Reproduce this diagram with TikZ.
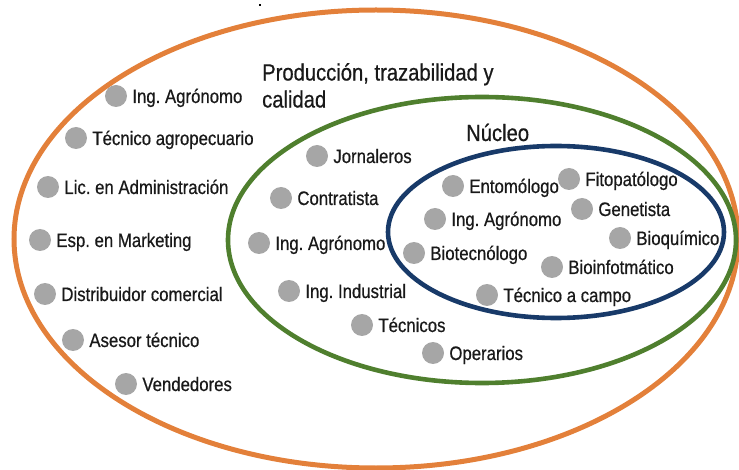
\documentclass[tikz,border=0pt]{standalone}
\usepackage{fontspec}
\setmainfont{Liberation Sans}[FakeStretch=0.86,FakeBold=0.6]
\usetikzlibrary{positioning}
\definecolor{ringorange}{HTML}{E3803A}
\definecolor{ringgreen}{HTML}{4F7F2E}
\definecolor{ringblue}{HTML}{183A69}
\definecolor{dotgray}{HTML}{A6A6A6}
\frenchspacing
\tikzset{
  ring/.style={line width=4.6pt},
  dot/.style={circle,fill=dotgray,minimum size=22pt,inner sep=0pt},
  lbl/.style={font=\fontsize{19.5}{22}\selectfont,text=black!90,inner sep=0pt,
    text height=14pt,text depth=0pt},
  heading/.style={font=\fontsize{23.5}{27}\selectfont,text=black!90,inner sep=0pt,align=left},
}

\begin{document}
\begin{tikzpicture}[x=1pt,y=-1pt]
  \useasboundingbox (0,0) rectangle (739,470);

  % Draw the three rings
  \draw[ring,ringorange,line width=5pt] (376,239) ellipse [x radius=362pt,y radius=229pt];
  \draw[ring,ringgreen] (482,240) ellipse [x radius=254pt,y radius=143pt];
  \draw[ring,ringblue] (556,232) ellipse [x radius=168pt,y radius=86pt];

  \fill[black] (259,4) rectangle (261,6);

  % Headings
  \node[heading,anchor=north west] (prod) at (262,63) {Producción, trazabilidad y\\calidad};
  \node[heading,anchor=base west] (nucleo) at (466,141) {Núcleo};

  % Outer ring
  \foreach \n/\x/\y/\t in {o1/116/96/Ing. Agrónomo, o2/76/138/Técnico agropecuario,
      o3/48/187/Lic. en Administración, o4/40/240/Esp. en Marketing,
      o5/45/294/Distribuidor comercial, o6/73/340/Asesor técnico, o7/126/384/Vendedores}{
    \node[dot] (\n) at (\x,\y) {};
    \node[lbl,right=5pt of \n] (\n-t) {\t};
  }

  % Middle ring
  \foreach \n/\x/\y/\t in {m1/317/156/Jornaleros, m2/281/198/Contratista,
      m3/259/243/Ing. Agrónomo, m4/289/291/Ing. Industrial, m5/362/325/Técnicos,
      m6/433/353/Operarios}{
    \node[dot] (\n) at (\x,\y) {};
    \node[lbl,right=5pt of \n] (\n-t) {\t};
  }

  % Core
  \foreach \n/\x/\y/\t in {c1/453/186/Entomólogo, c2/569/179/Fitopatólogo,
      c3/435/219/Ing. Agrónomo, c4/582/209/Genetista, c5/620/238/Bioquímico,
      c6/414/253/Biotecnólogo, c7/552/267/Bioinfotmático, c8/487/295/Técnico a campo}{
    \node[dot] (\n) at (\x,\y) {};
    \node[lbl,right=5pt of \n] (\n-t) {\t};
  }

\end{tikzpicture}
\end{document}
